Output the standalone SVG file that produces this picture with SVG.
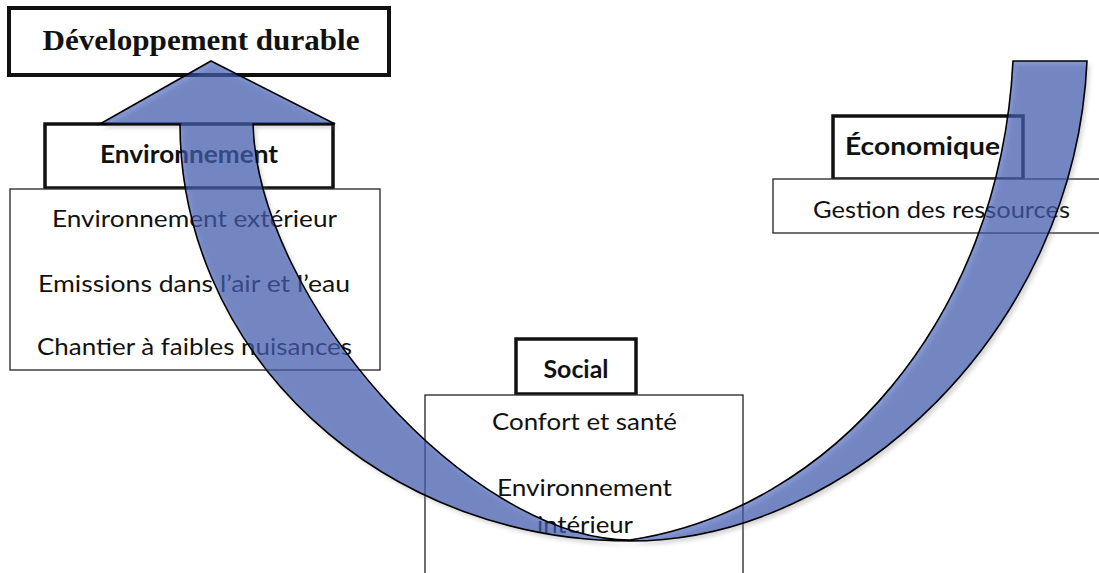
<svg xmlns="http://www.w3.org/2000/svg" width="1099" height="573" viewBox="0 0 1099 573">
<style>
.hdr{fill:#fff;stroke:#111;stroke-width:3.5}
.lst{fill:#fff;stroke:#333;stroke-width:1.4}
.ttl{font-family:"Liberation Serif",serif;font-weight:bold;font-size:29px;fill:#111;text-anchor:middle}
.hb{font-family:Lato,"Open Sans",sans-serif;font-weight:bold;font-size:24px;fill:#111;text-anchor:middle}
.it{font-family:Lato,"Open Sans",sans-serif;font-size:22.5px;fill:#111;text-anchor:middle}
.arrow{fill:#3352B5;fill-opacity:0.6;stroke:#000;stroke-width:1.6;stroke-linejoin:miter}
</style>
<defs>
<filter id="sh" x="-10%" y="-10%" width="120%" height="120%">
<feGaussianBlur stdDeviation="2"/>
</filter>
</defs>
<rect width="1099" height="573" fill="#fff"/>
<g id="title">
<rect x="9" y="8" width="380" height="67" fill="#fff" stroke="#111" stroke-width="4"/>
<text class="ttl" x="201" y="50" textLength="317" lengthAdjust="spacingAndGlyphs">Développement  durable</text>
</g>
<g id="environnement">
<rect class="hdr" x="45" y="124" width="288" height="64"/>
<text class="hb" x="189" y="163" textLength="178" lengthAdjust="spacingAndGlyphs">Environnement</text>
<rect class="lst" x="10" y="189" width="370" height="181"/>
<text class="it" x="194.5" y="227" textLength="285" lengthAdjust="spacingAndGlyphs">Environnement extérieur</text>
<text class="it" x="194" y="292" textLength="312" lengthAdjust="spacingAndGlyphs">Emissions dans l’air et l’eau</text>
<text class="it" x="194.5" y="355" textLength="315" lengthAdjust="spacingAndGlyphs">Chantier à faibles nuisances</text>
</g>
<g id="social">
<rect class="hdr" x="516" y="339" width="120" height="55"/>
<text class="hb" x="576" y="378" textLength="65" lengthAdjust="spacingAndGlyphs">Social</text>
<rect class="lst" x="425" y="395" width="318" height="200"/>
<text class="it" x="584.5" y="430" textLength="185" lengthAdjust="spacingAndGlyphs">Confort et santé</text>
<text class="it" x="584.5" y="496" textLength="175" lengthAdjust="spacingAndGlyphs">Environnement</text>
<text class="it" x="585" y="533" textLength="96" lengthAdjust="spacingAndGlyphs">intérieur</text>
</g>
<g id="economique">
<rect class="hdr" x="833" y="116" width="190" height="63"/>
<text class="hb" x="922.5" y="155" textLength="155" lengthAdjust="spacingAndGlyphs">Économique</text>
<rect class="lst" x="773" y="179" width="340" height="54"/>
<text class="it" x="941.5" y="218" textLength="257" lengthAdjust="spacingAndGlyphs">Gestion des ressources</text>
</g>
<g id="connectors">
<path d="M100,124 L211,61 L335,124 L253,124 C258,300 470,540 630,540 C830,510 1000,320 1013,61 L1087,61 C1075,330 850,541 630,541 A450,417 0 0 1 180,124 Z" fill="#888" opacity="0.35" transform="translate(3,4)" filter="url(#sh)"/>
<path class="arrow" d="M100,124 L211,61 L335,124 L253,124 C258,300 470,540 630,540 C830,510 1000,320 1013,61 L1087,61 C1075,330 850,541 630,541 A450,417 0 0 1 180,124 Z"/>
</g>
</svg>
